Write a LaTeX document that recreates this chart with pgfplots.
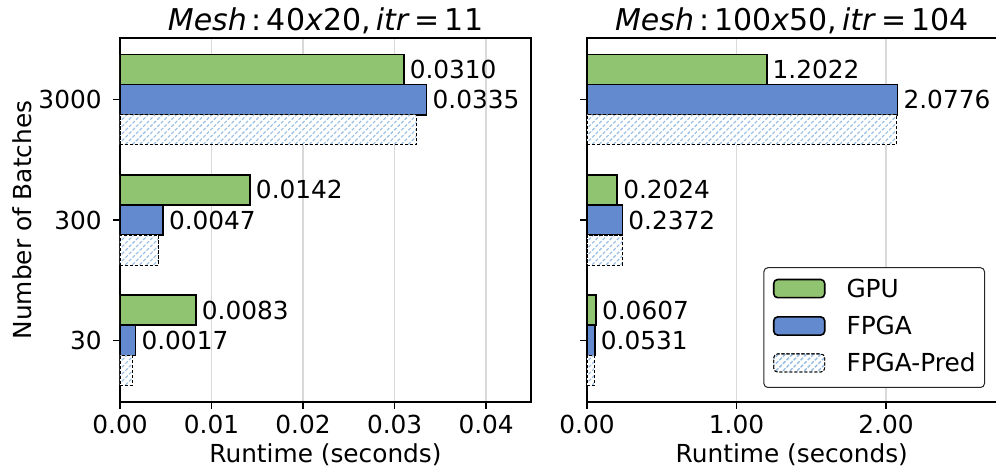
\documentclass[border=0pt]{standalone}
\usepackage{fontspec}
\setmainfont{DejaVu Sans}
\usepackage{pgfplots}
\pgfplotsset{compat=1.18}
\usetikzlibrary{patterns.meta}
\definecolor{gpu}{RGB}{145,196,113}
\definecolor{fpga}{RGB}{99,138,207}
\definecolor{hatchc}{RGB}{150,190,228}

\newcommand{\ttl}[3]{\textit{Mesh}\kern2.5pt:\kern2.5pt#1\textit{x}#2,\kern2.5pt\textit{itr}\kern2.5pt=\kern2.5pt#3}

\pgfplotsset{
  mystyle/.style={
    scale only axis, height=182pt,
    xmin=0, ymin=-0.5125, ymax=2.5125,
    ytick={0,1,2},
    scaled x ticks=false,
    tick align=outside, major tick length=3.5pt,
    tick pos=left,
    axis line style={line width=0.8pt},
    every tick/.style={black, line width=0.8pt},
    xmajorgrids, grid style={black!15, line width=0.7pt},
    /pgf/number format/assume math mode=true,
    xticklabel style={anchor=north, inner sep=0pt, yshift=-3pt,
      /pgf/number format/fixed, /pgf/number format/zerofill, /pgf/number format/precision=2},
    yticklabel style={anchor=east, inner sep=0pt, xshift=-5.5pt},
    title style={at={([yshift=5pt]axis description cs:0.5,1)}, anchor=base, inner sep=0pt, yshift=-7.5pt,
      font=\fontsize{15}{18}\selectfont},
    xlabel style={at={([yshift=-30.5pt]axis description cs:0.5,0)}, anchor=base, inner sep=0pt},
    ylabel style={at={([xshift=-44pt]axis description cs:0,0.5)}, anchor=base, inner sep=0pt},
    xlabel={Runtime (seconds)},
    nodes near coords style={anchor=west, inner sep=0pt, xshift=2.6pt},
  },
  barimg/.style={legend image code/.code={\draw[##1] (0pt,-0.3pt) rectangle (25.5pt,8.8pt);}},
  gpubar/.style={xbar, bar width=0.25, bar shift=0pt, fill=gpu, draw=black, line width=0.8pt,
    point meta=x, nodes near coords={\pgfmathprintnumber[fixed,zerofill,precision=4]{\pgfplotspointmeta}}, barimg},
  fpgabar/.style={xbar, bar width=0.25, bar shift=0pt, fill=fpga, draw=black, line width=0.8pt,
    point meta=x, nodes near coords={\pgfmathprintnumber[fixed,zerofill,precision=4]{\pgfplotspointmeta}}, barimg},
  predbar/.style={xbar, bar width=0.25, bar shift=0pt, fill=white, draw=black, line width=0.4pt,
    dash pattern=on 1.6pt off 0.9pt,
    postaction={pattern={Lines[angle=45,distance=2.5pt,line width=0.55pt]}, pattern color=hatchc},
    legend image code/.code={\fill[pattern={Lines[angle=45,distance=2.5pt,line width=0.55pt]}, pattern color=hatchc] (0pt,-0.3pt) rectangle (25.5pt,8.8pt);}},
}

\begin{document}
\fontsize{12.4}{14.5}\selectfont
\begin{tikzpicture}
\useasboundingbox (-60pt,-36.5pt) rectangle (438pt,201pt);
\begin{axis}[mystyle, width=205.5pt, xmax=0.0449,
  xtick={0,0.01,0.02,0.03,0.04},
  yticklabels={30,300,3000},
  ylabel={Number of Batches},
  title={\ttl{40}{20}{11}},
]
\addplot[gpubar] coordinates {(0.0310,2.25) (0.0142,1.25) (0.0083,0.25)};
\addplot[fpgabar] coordinates {(0.0335,2) (0.0047,1) (0.0017,0)};
\addplot[predbar] coordinates {(0.0324,1.75) (0.0042,0.75) (0.00135,-0.25)};
\end{axis}
\begin{axis}[mystyle, at={(233.5pt,0pt)}, width=204.8pt, xmax=2.74,
  xtick={0,1,2},
  yticklabels={},
  title={\ttl{100}{50}{104}},
  legend style={at={([xshift=-5.8pt,yshift=7pt]axis description cs:1,0)}, anchor=south east,
    draw=black!85, line width=0.5pt, rounded corners=2pt, inner xsep=4.5pt, inner ysep=5.5pt,
    row sep=7pt, column sep=10.5pt,
    nodes={inner sep=0pt, text height=9pt, text depth=2.5pt, anchor=base west}},
  legend cell align=left,
]
\addplot[gpubar] coordinates {(1.2022,2.25) (0.2024,1.25) (0.0607,0.25)};
\addplot[fpgabar] coordinates {(2.0776,2) (0.2372,1) (0.0531,0)};
\addplot[predbar] coordinates {(2.07,1.75) (0.236,0.75) (0.051,-0.25)};
\legend{GPU,FPGA,FPGA-Pred}
\end{axis}
\end{tikzpicture}
\end{document}
